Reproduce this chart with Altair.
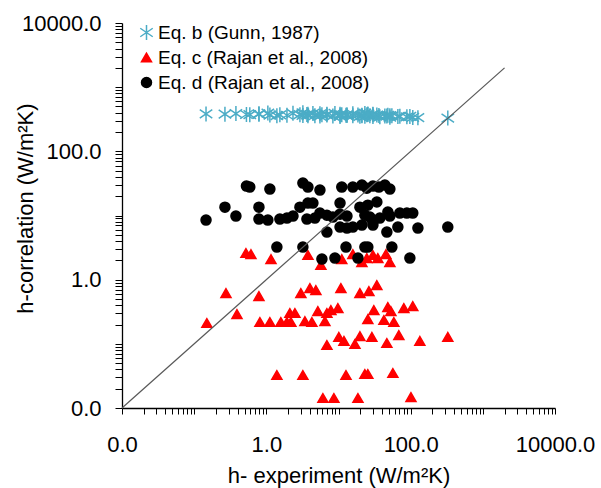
import altair as alt
import pandas as pd

# ---- data (h-experiment vs h-correlation, W/m2K) ----
series_names = ["Eq. b (Gunn, 1987)", "Eq. c (Rajan et al., 2008)", "Eq. d (Rajan et al., 2008)"]
series_colors = ["#4BACC6", "#FF0000", "#000000"]

gunn_x = [0.53, 0.59, 1.12, 3.21, 3.77, 5.53, 11.1, 15.8, 21.1, 24.7, 30.0, 36.3, 43.9, 51.5,
          0.267, 0.79, 2.92, 3.77, 4.42, 10.5, 19.8, 25.5, 34.0,
          0.146, 0.379, 0.79, 1.05, 1.54, 1.93, 2.34, 3.65, 4.71, 5.53, 6.91, 8.36, 10.5, 13.1,
          23.2, 27.2, 30.0, 37.4, 48.3, 51.5, 70.8, 88.6, 107,
          6.91, 10.5, 13.1, 15.8, 21.1, 30.0, 46.8, 66.5, 126, 327,
          1.40, 3.21, 12.7, 23.2, 25.5, 54.9,
          5.89, 8.92, 18.6, 97.5]
gunn_y = [375, 372, 368, 362, 380, 355, 370, 358, 365, 372, 350, 362, 355, 360,
          380, 385, 372, 360, 390, 365, 352, 375, 368,
          382, 388, 378, 395, 370, 365, 392, 375, 360, 385, 368, 355, 378, 362,
          390, 358, 372, 345, 365, 340, 352, 345, 338,
          380, 350, 372, 385, 360, 378, 355, 348, 335, 330,
          360, 398, 365, 352, 382, 358,
          372, 390, 368, 350]

rajan_c_x = [0.522, 0.612, 1.16, 3.77, 5.70, 11.1, 15.8, 21.1, 24.7, 30.0, 35.1, 45.4, 51.5,
             0.276, 0.790, 3.01, 4.02, 4.86, 10.8, 19.8, 26.4, 34.0,
             0.392, 2.12, 2.49, 5.18, 6.91, 7.85, 9.81, 30.9, 48.3, 53.2, 80.5, 107,
             0.150, 0.815, 1.12, 1.59, 1.93, 2.19, 3.42, 4.28, 6.48, 25.5, 42.6, 58.5,
             6.91, 10.1, 11.9, 16.9, 19.8, 29.0, 46.8, 68.6, 134, 327,
             1.40, 3.21, 12.7, 23.2, 25.5, 56.7,
             6.08, 8.64, 18.6, 101]
rajan_c_y = [2.60, 2.50, 2.09, 2.42, 1.69, 2.09, 2.50, 1.88, 2.17, 2.42, 2.17, 2.50, 1.88,
             0.618, 0.555, 0.618, 0.740, 0.689, 0.740, 0.618, 0.664, 0.824,
             0.291, 0.302, 0.302, 0.324, 0.302, 0.336, 0.361, 0.336, 0.374, 0.324, 0.361, 0.388,
             0.211, 0.219, 0.219, 0.219, 0.219, 0.219, 0.226, 0.219, 0.226, 0.243, 0.235, 0.219,
             0.0958, 0.128, 0.111, 0.0993, 0.132, 0.128, 0.103, 0.137, 0.111, 0.128,
             0.0327, 0.0327, 0.0327, 0.0339, 0.0339, 0.0351,
             0.0143, 0.0143, 0.0143, 0.0148]

rajan_d_x = list(gunn_x)
rajan_d_y = [28.7, 27.7, 25.8, 32.0, 27.7, 24.9, 27.7, 27.7, 29.8, 26.7, 28.7, 27.7, 29.8, 25.8,
             13.5, 13.5, 13.5, 15.6, 15.6, 15.6, 13.5, 14.5, 16.2,
             8.48, 9.79, 8.79, 8.48, 8.79, 9.11, 9.79, 8.79, 9.11, 10.9, 10.1, 9.44, 10.5, 9.79,
             10.1, 9.44, 7.89, 9.11, 11.3, 9.79, 10.9, 10.9, 10.9,
             5.51, 6.60, 6.37, 6.60, 7.09, 7.09, 5.51, 6.60, 6.37, 6.60,
             3.22, 3.22, 3.22, 3.22, 3.22, 3.22,
             2.09, 2.17, 2.17, 2.17]

line_x = [0.01, 2000]
label_values = [0.01, 1, 100, 10000]
tick_values = [round(m * 10.0 ** e, 10) for e in range(-2, 4) for m in range(1, 10)] + [10000]

rows = []
for name, xs, ys in zip(series_names, [gunn_x, rajan_c_x, rajan_d_x], [gunn_y, rajan_c_y, rajan_d_y]):
    rows += [{"x": a, "y": b, "series": name} for a, b in zip(xs, ys)]
df = pd.DataFrame(rows)
df_line = pd.DataFrame({"x": line_x, "y": line_x})

FONT = "Liberation Sans"
label_expr = ("(" + " || ".join("datum.value == %s" % v for v in label_values) +
              ") ? format(datum.value, '.1f') : ''")

asterisk = "M0,-1.5L0,1.5M-1.25,-0.85L1.25,0.85M-1.25,0.85L1.25,-0.85"
shapes = [asterisk, "triangle-up", "circle"]

xscale = alt.Scale(type="log", domain=[0.01, 10000], nice=False)
yscale = alt.Scale(type="log", domain=[0.01, 10000], nice=False)

xaxis = alt.Axis(values=tick_values, labelExpr=label_expr, grid=False, tickSize=6,
                 labelPadding=20, labelFontSize=22, labelFont=FONT, labelColor="black",
                 labelOverlap=False, labelFlush=False,
                 domainColor="black", domainWidth=1.3, tickColor="black", tickWidth=1,
                 title="h- experiment (W/m²K)", titleFont=FONT, titleFontSize=22,
                 titleFontWeight="normal", titleColor="black", titleBaseline="alphabetic",
                 titleY=74)
yaxis = alt.Axis(values=tick_values, labelExpr=label_expr, grid=False, tickSize=7,
                 labelPadding=14, labelFontSize=22, labelFont=FONT, labelColor="black",
                 labelOverlap=False, labelFlush=False,
                 domainColor="black", domainWidth=1.3, tickColor="black", tickWidth=1,
                 title="h-correlation (W/m²K)", titleFont=FONT, titleFontSize=22,
                 titleFontWeight="normal", titleColor="black", titleBaseline="alphabetic",
                 titleAngle=-90, titleX=-90, titleY=185, titleAlign="center")

legend = alt.Legend(orient="none", legendX=15, legendY=0, title=None, padding=0,
                    labelFont=FONT, labelFontSize=19, labelColor="black", labelOffset=2,
                    labelLimit=400, rowPadding=5, symbolStrokeWidth=1.5, symbolSize=100)

cscale = alt.Scale(domain=series_names, range=series_colors)

points = alt.Chart(df).mark_point(filled=True, size=100, strokeWidth=1.5, opacity=1).encode(
    x=alt.X("x:Q", scale=xscale, axis=xaxis),
    y=alt.Y("y:Q", scale=yscale, axis=yaxis),
    color=alt.Color("series:N", scale=cscale, legend=legend),
    stroke=alt.Stroke("series:N", scale=cscale, legend=legend),
    shape=alt.Shape("series:N", scale=alt.Scale(domain=series_names, range=shapes), legend=legend),
)

diag = alt.Chart(df_line).mark_line(color="#595959", strokeWidth=1.2).encode(
    x=alt.X("x:Q", scale=xscale, axis=xaxis),
    y=alt.Y("y:Q", scale=yscale, axis=yaxis),
)

chart = alt.layer(points, diag).properties(
    width=433, height=385,
    padding={"left": 122, "top": 23, "right": 46, "bottom": 80},
    autosize=alt.AutoSizeParams(type="none"),
    background="white",
).configure_view(stroke=None)

chart.save("out.html", embed_options={"renderer": "svg", "actions": False})
